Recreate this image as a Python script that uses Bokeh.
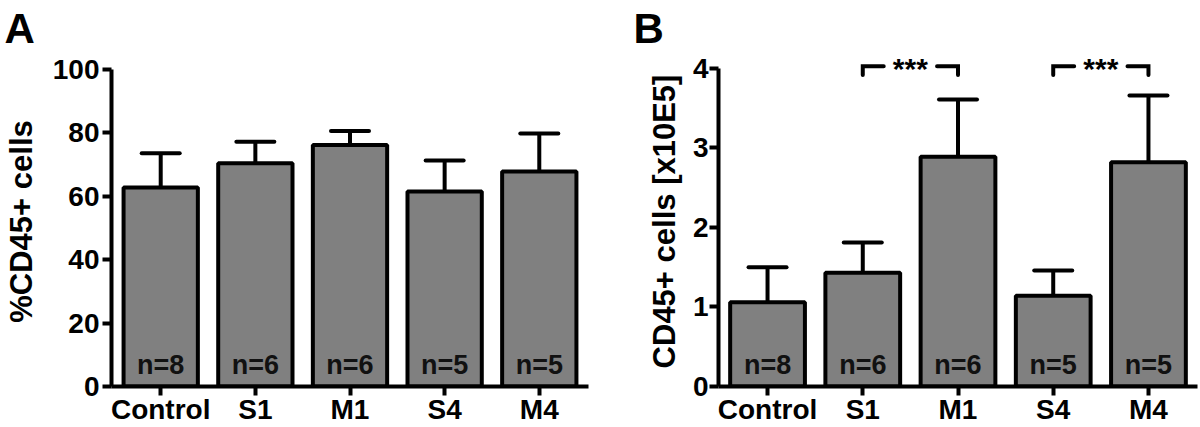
from bokeh.plotting import figure
from bokeh.layouts import row
from bokeh.models import ColumnDataSource, Range1d, FixedTicker, Whisker, TeeHead
from bokeh.core.properties import value
from bokeh.embed import file_html
from bokeh.resources import INLINE

# ---------------- data ----------------
groups = ["Control", "S1", "M1", "S4", "M4"]
n_per_group = [8, 6, 6, 5, 5]
pct_mean = [62.8, 70.4, 76.2, 61.5, 67.8]
pct_err = [10.8, 6.8, 4.4, 9.8, 12.0]
cnt_mean = [1.06, 1.43, 2.89, 1.14, 2.82]
cnt_err = [0.44, 0.38, 0.72, 0.32, 0.84]
pct_ticks = [0, 20, 40, 60, 80, 100]
cnt_ticks = [0, 1, 2, 3, 4]
sig_pairs = [("S1", "M1"), ("S4", "M4")]
sig_labels = ["***", "***"]

# ---------------- style ----------------
FONT = "Liberation Sans"
GRAY = "#808080"
H = 427
B_TOP = 56
B_BOTTOM = 39


def make_panel(letter, means, errs, ticks, ylabel, y_end, width, b_left, b_right,
               title_offset, pad, tick_standoff, label_standoff, pairs=None, pair_labels=None):
    xs = list(range(len(groups)))
    src = ColumnDataSource(dict(
        x=xs, top=means, upper=[m + e for m, e in zip(means, errs)],
        n=["n=%d" % n for n in n_per_group]))
    p = figure(width=width, height=H, output_backend="svg", toolbar_location=None,
               x_range=Range1d(-0.5 - pad, len(groups) - 0.5 + pad), y_range=Range1d(0, y_end),
               min_border_left=b_left, min_border_right=b_right, min_border_top=B_TOP,
               min_border_bottom=B_BOTTOM, title=letter)
    p.outline_line_color = None
    p.xgrid.visible = False
    p.ygrid.visible = False
    p.background_fill_color = "white"
    p.border_fill_color = "white"

    p.title.text_font = FONT
    p.title.text_font_style = "bold"
    p.title.text_font_size = "42px"
    p.title.text_color = "black"
    p.title.align = "left"
    p.title.vertical_align = "top"
    p.title.offset = title_offset
    p.title.standoff = 6

    p.vbar(x="x", top="top", bottom=0, width=0.785, source=src,
           fill_color=GRAY, line_color="black", line_width=4)
    w = Whisker(source=src, base="x", upper="upper", lower="top",
                line_width=4, line_color="black",
                upper_head=TeeHead(size=38, line_width=4, line_color="black", line_cap="round"),
                lower_head=None)
    p.add_layout(w)
    p.text(x="x", y=0, text="n", source=src, text_font=value(FONT), text_font_style="bold",
           text_font_size="27px", text_align="center", text_baseline="alphabetic",
           y_offset=-22, text_color="#111111")

    if pairs:
        yb, drop, gap = ticks[-1] * 1.007, ticks[-1] * 0.028, 0.28
        mxs, mys, tx, tl = [], [], [], []
        for (a, b), lab in zip(pairs, pair_labels):
            xa, xb = groups.index(a), groups.index(b)
            mid = (xa + xb) / 2
            mxs += [[xa, xa, mid - gap], [mid + gap, xb, xb]]
            mys += [[yb - drop, yb, yb], [yb, yb, yb - drop]]
            tx.append(mid)
            tl.append(lab)
        p.multi_line(mxs, mys, line_width=4, line_color="black", line_cap="round", line_join="miter")
        p.text(x=tx, y=[yb] * len(tx), text=tl, text_font=value(FONT), text_font_style="bold",
               text_font_size="30px", text_align="center", text_baseline="middle", y_offset=2)

    for ax in (p.xaxis[0], p.yaxis[0]):
        ax.axis_line_width = 4
        ax.axis_line_color = "black"
        ax.major_tick_line_width = 4
        ax.major_tick_line_color = "black"
        ax.major_tick_in = 0
        ax.major_tick_out = 9
        ax.minor_tick_line_color = None
        ax.major_label_text_font = FONT
        ax.major_label_text_font_style = "bold"
        ax.major_label_text_font_size = "28px"
        ax.major_label_text_color = "black"

    p.yaxis.ticker = FixedTicker(ticks=ticks)
    p.yaxis.bounds = (0, ticks[-1])
    p.yaxis.major_label_standoff = tick_standoff
    p.yaxis.axis_label = ylabel
    p.yaxis.axis_label_text_font = FONT
    p.yaxis.axis_label_text_font_style = "bold"
    p.yaxis.axis_label_text_font_size = "31px"
    p.yaxis.axis_label_text_color = "black"
    p.yaxis.axis_label_standoff = label_standoff

    p.xaxis.ticker = FixedTicker(ticks=xs)
    p.xaxis.major_label_overrides = {i: g for i, g in enumerate(groups)}
    p.xaxis.major_label_standoff = -2
    p.xaxis.axis_label_standoff = 0
    return p


pa = make_panel("A", pct_mean, pct_err, pct_ticks, "%CD45+ cells", 104.1,
                600, 107, 12, -107, 0.02, 3, 11)
pb = make_panel("B", cnt_mean, cnt_err, cnt_ticks, "CD45+ cells [x10E5]", 4.15,
                600, 118, 3, -85, 0.015, 1, 8, sig_pairs, sig_labels)

layout = row(pa, pb)
open("out.html", "w").write(file_html(layout, INLINE))
